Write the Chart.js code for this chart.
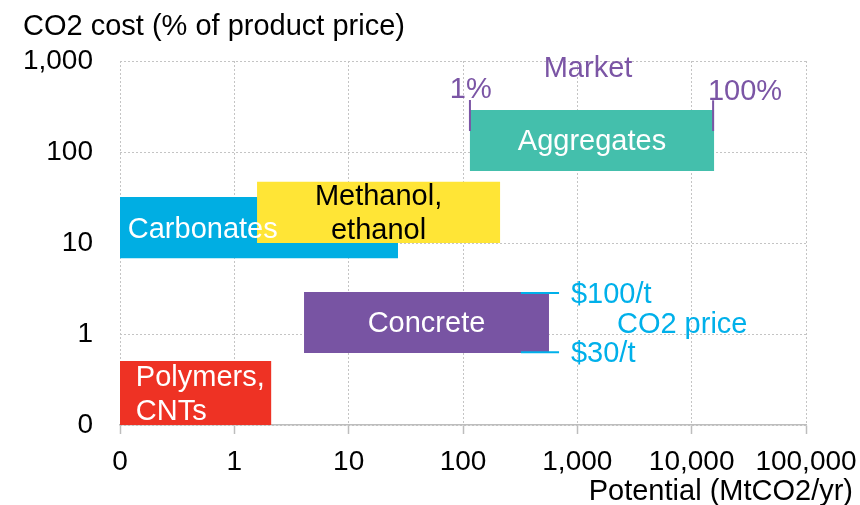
<!DOCTYPE html>
<html>
<head>
<meta charset="utf-8">
<script src="https://cdn.jsdelivr.net/npm/chart.js@4.4.0/dist/chart.umd.min.js"></script>
<style>
  body { margin: 0; background: #fff; }
</style>
</head>
<body>
<canvas id="co2" width="860" height="505"></canvas>
<script>
// log-log: potential (MtCO2/yr) vs CO2 cost (% of product price)
var xTicks = [0.1, 1, 10, 100, 1000, 10000, 100000];
var xTickLabels = ['0', '1', '10', '100', '1,000', '10,000', '100,000'];
var yTicks = [0.1, 1, 10, 100, 1000];
var yTickLabels = ['0', '1', '10', '100', '1,000'];

// product boxes
var products = ['Polymers, CNTs', 'Carbonates', 'Methanol, ethanol', 'Concrete', 'Aggregates'];
var potentialFrom = [0.092, 0.09, 1.58, 4.07, 115];
var potentialTo = [2.1, 27, 211, 565, 15700];
var costFrom = [0.1, 6.8, 10, 0.62, 62];
var costTo = [0.505, 32, 47, 2.9, 290];

// market markers
var marketShare = ['1%', '100%'];
var marketPotential = [115, 15400];
var marketCostFrom = [170, 170];
var marketCostTo = [373, 370];

// CO2 price markers
var co2Price = ['$100/t', '$30/t'];
var co2PriceCost = [2.82, 0.63];
var co2PricePotential = [321, 692];

var FONT = "'Liberation Sans', Arial, sans-serif";
var PURPLE = '#7B55A5';
var CYAN = '#00B0EA';
var TEXT_DY = 2; // canvas 'middle' sits a bit high for this font

var boxStyle = [
    { color: '#EE3224', text: '#ffffff', align: 'left', inset: 20, order: 1 },
    { color: '#00AEE3', text: '#ffffff', align: 'left', inset: 13, order: 3 },
    { color: '#FFE536', text: '#000000', align: 'center', order: 2 },
    { color: '#7854A3', text: '#ffffff', align: 'center', order: 1 },
    { color: '#44BFAC', text: '#ffffff', align: 'center', order: 1 }
];

// free text, placed in data units
var notes = [
    { text: 'Market', x: 1240, y: 860, color: PURPLE, align: 'center' },
    { text: marketShare[0], x: 117, y: 505, color: PURPLE, align: 'center' },
    { text: marketShare[1], x: 29300, y: 480, color: PURPLE, align: 'center' },
    { text: co2Price[0], x: 880, y: 2.82, color: CYAN, align: 'left' },
    { text: 'CO2 price', x: 2220, y: 1.32, color: CYAN, align: 'left' },
    { text: co2Price[1], x: 880, y: 0.63, color: CYAN, align: 'left' }
];

var datasets = [];

products.forEach(function (name, i) {
    var x0 = potentialFrom[i], x1 = potentialTo[i], y0 = costFrom[i], y1 = costTo[i];
    datasets.push({
        label: name,
        data: [{ x: x0, y: y0 }, { x: x1, y: y0 }, { x: x1, y: y1 }, { x: x0, y: y1 }, { x: x0, y: y0 }],
        fill: 'shape',
        backgroundColor: boxStyle[i].color,
        borderColor: 'rgba(0,0,0,0)',
        borderWidth: 0,
        pointRadius: 0,
        order: boxStyle[i].order,
        clip: false
    });
});

marketShare.forEach(function (m, i) {
    datasets.push({
        label: 'Market ' + m,
        data: [{ x: marketPotential[i], y: marketCostFrom[i] }, { x: marketPotential[i], y: marketCostTo[i] }],
        fill: false,
        borderColor: PURPLE,
        borderWidth: 2,
        pointRadius: 0,
        order: 0,
        clip: false
    });
});

co2Price.forEach(function (p, i) {
    datasets.push({
        label: p,
        data: [{ x: co2PricePotential[0], y: co2PriceCost[i] }, { x: co2PricePotential[1], y: co2PriceCost[i] }],
        fill: false,
        borderColor: CYAN,
        borderWidth: 2,
        pointRadius: 0,
        order: 0,
        clip: false
    });
});

var textPlugin = {
    id: 'texts',
    afterDatasetsDraw: function (chart) {
        var ctx = chart.ctx;
        var xs = chart.scales.x, ys = chart.scales.y;
        ctx.save();
        ctx.font = '29px ' + FONT;
        ctx.textBaseline = 'middle';
        products.forEach(function (name, i) {
            var st = boxStyle[i];
            var left = xs.getPixelForValue(potentialFrom[i]);
            var right = xs.getPixelForValue(potentialTo[i]);
            var top = ys.getPixelForValue(costTo[i]);
            var bottom = ys.getPixelForValue(costFrom[i]);
            var lines = name.replace(', ', ',\n').split('\n');
            var cy = (top + bottom) / 2 - (lines.length - 1) * 17 + TEXT_DY;
            var x = st.align === 'left' ? left + st.inset : (left + right) / 2;
            ctx.fillStyle = st.text;
            ctx.textAlign = st.align;
            lines.forEach(function (l, j) {
                ctx.fillText(l, x, cy + j * 34);
            });
        });
        notes.forEach(function (n) {
            ctx.fillStyle = n.color;
            ctx.textAlign = n.align;
            ctx.fillText(n.text, xs.getPixelForValue(n.x), ys.getPixelForValue(n.y) + TEXT_DY);
        });
        ctx.restore();
    },
    afterDraw: function (chart) {
        var ctx = chart.ctx;
        ctx.save();
        ctx.font = '29px ' + FONT;
        ctx.fillStyle = '#000000';
        ctx.textBaseline = 'middle';
        ctx.textAlign = 'left';
        ctx.fillText('CO2 cost (% of product price)', 23, 25 + TEXT_DY);
        ctx.textAlign = 'right';
        ctx.fillText('Potential (MtCO2/yr)', 853, 490 + TEXT_DY);
        ctx.restore();
    }
};

var ctx = document.getElementById('co2').getContext('2d');
var chart = new Chart(ctx, {
    type: 'line',
    data: { datasets: datasets },
    plugins: [textPlugin],
    options: {
        responsive: false,
        animation: false,
        devicePixelRatio: 1,
        events: [],
        layout: { padding: { top: 61, right: 54, bottom: 0, left: 0 } },
        plugins: {
            legend: { display: false },
            tooltip: { enabled: false },
            title: { display: false }
        },
        scales: {
            x: {
                type: 'logarithmic',
                min: 0.1,
                max: 100000,
                afterBuildTicks: function (scale) {
                    scale.ticks = xTicks.map(function (v) { return { value: v }; });
                },
                afterFit: function (scale) {
                    scale.height = 80;
                    scale.paddingLeft = 0;
                    scale.paddingRight = 0;
                },
                ticks: {
                    autoSkip: false,
                    maxRotation: 0,
                    padding: 11,
                    color: '#000000',
                    font: { family: FONT, size: 28 },
                    callback: function (v, i) { return xTickLabels[i]; }
                },
                grid: {
                    color: '#C4C4C4',
                    lineWidth: 1,
                    drawTicks: true,
                    tickLength: 9,
                    tickColor: '#BDBDBD',
                    tickWidth: 1.5
                },
                border: { display: true, color: '#BDBDBD', width: 1.5, dash: [2, 2] }
            },
            y: {
                type: 'logarithmic',
                min: 0.1,
                max: 1000,
                afterBuildTicks: function (scale) {
                    scale.ticks = yTicks.map(function (v) { return { value: v }; });
                },
                afterFit: function (scale) {
                    scale.width = 120;
                    scale.paddingTop = 0;
                    scale.paddingBottom = 0;
                },
                ticks: {
                    padding: 27,
                    color: '#000000',
                    font: { family: FONT, size: 28 },
                    callback: function (v, i) { return yTickLabels[i]; }
                },
                grid: {
                    color: '#C4C4C4',
                    lineWidth: 1,
                    drawTicks: false
                },
                border: { display: false, dash: [2, 2] }
            }
        }
    }
});
</script>
</body>
</html>
